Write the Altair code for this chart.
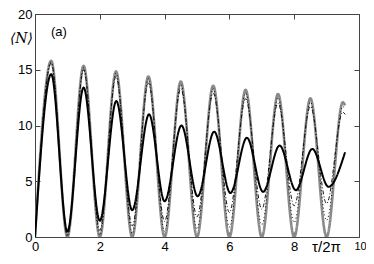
import altair as alt
import pandas as pd

# Extremes (peaks / troughs)
gray_t = [0, 0.5, 1, 1.5, 2, 2.5, 3, 3.5, 4, 4.5, 5, 5.5, 6, 6.5, 7, 7.5, 8, 8.5, 9, 9.5, 9.57]
gray_n = [0, 15.8, 0, 15.35, 0, 14.85, 0, 14.4, 0, 13.95, 0, 13.57, 0, 13.2, 0, 12.83, 0, 12.44, 0, 12.08, 11.8]

dot_t = [0, 0.5, 1, 1.5, 2, 2.5, 3, 3.5, 4, 4.5, 5, 5.5, 6, 6.5, 7, 7.5, 8, 8.5, 9, 9.5, 9.57]
dot_n = [0, 15.7, 0.05, 15.2, 0.15, 14.7, 0.3, 14.2, 0.5, 13.7, 0.7, 13.3, 0.9, 12.9, 1.1, 12.5, 1.3, 12.1, 1.5, 11.7, 11.5]

dashdot_t = [0, 0.5, 1, 1.5, 2, 2.5, 3, 3.5, 4, 4.5, 5, 5.5, 6, 6.5, 7, 7.5, 8, 8.5, 9, 9.5, 9.57]
dashdot_n = [0, 15.6, 0.2, 15.0, 0.6, 14.4, 1.0, 13.8, 1.4, 13.3, 1.8, 12.9, 2.2, 12.4, 2.5, 12.0, 2.8, 11.7, 3.0, 11.2, 11.0]

black_t = [0, 0.5, 1.0, 1.5, 2.0, 2.51, 3.0, 3.52, 4.0, 4.52, 5.02, 5.53, 6.03, 6.54, 7.04, 7.55, 8.05, 8.56, 9.06, 9.57]
black_n = [0, 14.6, 0.5, 13.4, 1.45, 12.2, 2.4, 11.0, 3.2, 10.0, 3.65, 9.45, 3.95, 8.9, 4.05, 8.2, 4.2, 7.9, 4.5, 7.6]

x_ticks = [0, 2, 4, 6, 8, 10]
y_ticks = [0, 5, 10, 15, 20]

FONT = "Liberation Sans"
xscale = alt.Scale(domain=[0, 10], nice=False, zero=False)
yscale = alt.Scale(domain=[0, 20], nice=False, zero=False)

x_bottom = alt.Axis(values=x_ticks, orient="bottom", offset=-5, tickSize=5, tickColor="#444",
                    domain=False, grid=False, labelFont=FONT,
                    labelFontSize={"condition": {"test": "datum.value === 10", "value": 11}, "value": 13},
                    labelOffset={"condition": {"test": "datum.value === 10", "value": 1}, "value": 0},
                    labelColor="black",
                    labelPadding=3, labelFlush=False, title="τ/2π", titleFont=FONT,
                    titleFontSize=15, titleFontWeight="normal", titleColor="black",
                    titleX=291, titleY=14, titleAlign="center", titleBaseline="middle")
y_left = alt.Axis(values=y_ticks, orient="left", offset=-5, tickSize=5, tickColor="#444",
                  domain=False, grid=False, labelFont=FONT, labelFontSize=13, labelColor="black",
                  labelPadding=3, labelFlush=False, title="⟨N⟩", titleFont="DejaVu Serif",
                  titleFontSize=14, titleFontWeight="normal", titleFontStyle="italic",
                  titleColor="black", titleAngle=0, titleX=-19, titleY=24,
                  titleAlign="center", titleBaseline="middle")
x_top = alt.Axis(values=x_ticks, orient="top", offset=-5, tickSize=5, tickColor="#444",
                 domain=False, grid=False, labels=False, title=None)
y_right = alt.Axis(values=y_ticks, orient="right", offset=-5, tickSize=5, tickColor="#444",
                   domain=False, grid=False, labels=False, title=None)


def layer(t, n, color, width, dash, xa=None, ya=None, opacity=1):
    df = pd.DataFrame({"t": t, "N": n})
    return alt.Chart(df).mark_line(color=color, strokeWidth=width, strokeDash=dash,
                                   interpolate="monotone", clip=True, opacity=opacity).encode(
        x=alt.X("t:Q", scale=xscale, axis=xa),
        y=alt.Y("N:Q", scale=yscale, axis=ya),
    )


g = layer(gray_t, gray_n, "#8a8a8a", 2.6, [1, 0], x_bottom, y_left)
d = layer(dot_t, dot_n, "#111", 1, [1, 2.5])
dd = layer(dashdot_t, dashdot_n, "#111", 1, [4, 2, 1, 2])
b = layer(black_t, black_n, "#000", 2, [1, 0])
ax = layer(gray_t, gray_n, "#000", 1, [1, 0], x_top, y_right, opacity=0)

chart = alt.layer(g, d, dd, b, ax).resolve_axis(x="independent", y="independent").properties(
    width=324, height=223,
    autosize=alt.AutoSizeParams(type="none"),
    padding={"left": 27, "top": 6, "right": 7, "bottom": 19},
    title=alt.TitleParams("(a)", anchor="start", orient="top", frame="group", offset=0,
                          dx=16, dy=31, baseline="top", font=FONT, fontSize=13,
                          fontWeight="normal", color="black"),
).configure_view(stroke="#444", strokeWidth=1)

chart.save("out.html", embed_options={"renderer": "svg", "actions": False})
